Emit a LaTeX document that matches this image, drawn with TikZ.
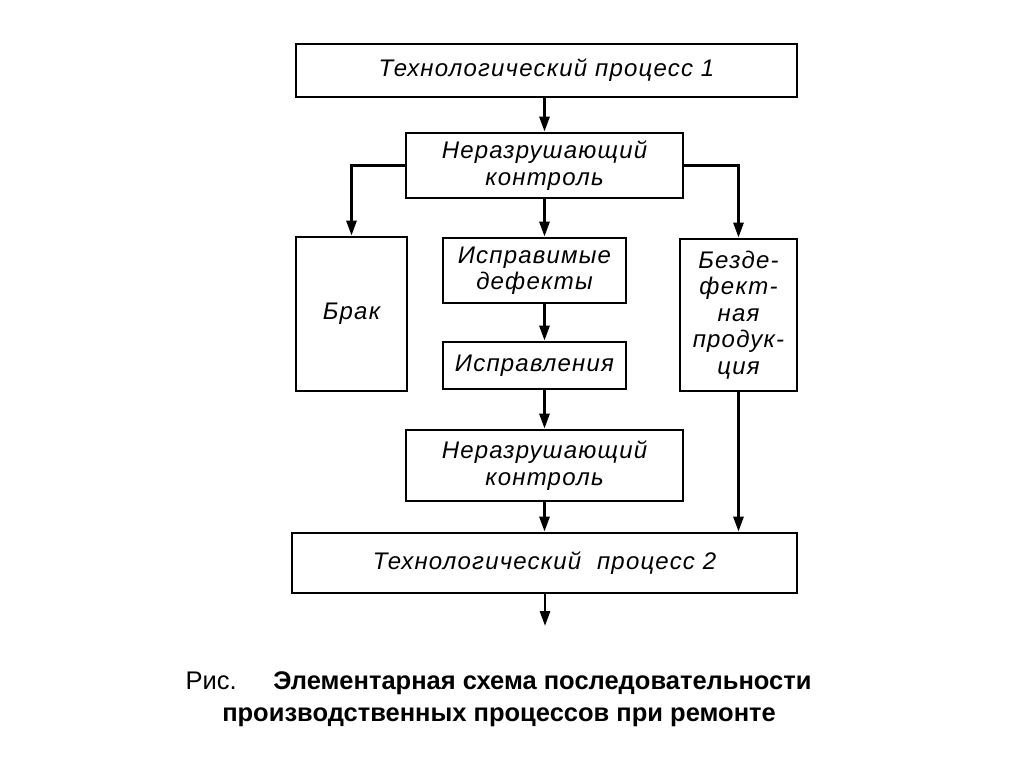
\documentclass[tikz,border=0pt]{standalone}
\usepackage{fontspec}
\setmainfont{Liberation Sans}
\newfontfamily\boxfont[LetterSpace=5]{Liberation Sans}
\usetikzlibrary{arrows.meta}
\begin{document}
\begin{tikzpicture}[x=1pt,y=-1pt,
  box/.style={draw=black,line width=2.8pt,rectangle,inner sep=0pt,align=center,
    font=\boxfont\fontsize{24}{26.5}\selectfont\itshape},
  conn/.style={line width=2.8pt,-{Triangle[length=15pt,width=10pt]}},
  captxt/.style={font=\fontsize{25.5}{30}\selectfont,anchor=base}]
\useasboundingbox (0,0) rectangle (1024,767);
\node[box,minimum width=501pt,minimum height=53pt] (tp1) at (546.5,70.5) {Технологический\ процесс 1};
\node[box,minimum width=277pt,minimum height=65pt] (nk1) at (544.5,165.5) {Неразрушающий\\контроль};
\node[box,minimum width=111pt,minimum height=154pt] (brak) at (351.5,314) {Брак};
\node[box,minimum width=183pt,minimum height=65pt] (id) at (534.5,270.5) {Исправимые\\дефекты};
\node[box,minimum width=183pt,minimum height=47pt] (ispr) at (534.5,365.5) {Исправления};
\node[box,minimum width=117pt,minimum height=152pt] (bez) at (738.5,315) {Безде-\\фект-\\ная\\продук-\\ция};
\node[box,minimum width=277pt,minimum height=71pt] (nk2) at (544.5,465.5) {Неразрушающий\\контроль};
\node[box,minimum width=505pt,minimum height=60pt] (tp2) at (544.5,563) {Технологический\ \ процесс 2};
\coordinate (out) at (545,626);
\draw[conn] (nk1.north |- tp1.south) -- (nk1.north);
\draw[conn] (nk1.south) -- (nk1.south |- id.north);
\draw[conn] (nk1.south |- id.south) -- (nk1.south |- ispr.north);
\draw[conn] (nk1.south |- ispr.south) -- (nk2.north);
\draw[conn] (nk2.south) -- (nk2.south |- tp2.north);
\draw[conn] (nk1.west) -| (brak.north);
\draw[conn] (nk1.east) -| (bez.north);
\draw[conn] (bez.south) -- (bez.south |- tp2.north);
\draw[conn] (tp2.south -| out) -- (out);
\node[captxt,anchor=base west] (ris) at (182,689) {Рис.};
\node[captxt,anchor=base,font=\fontsize{25.5}{30}\selectfont\bfseries] (c1) at (542.5,689) {Элементарная схема последовательности};
\node[captxt,anchor=base,font=\fontsize{25.5}{30}\selectfont\bfseries] (c2) at (499,721) {производственных процессов при ремонте};
\end{tikzpicture}
\end{document}
